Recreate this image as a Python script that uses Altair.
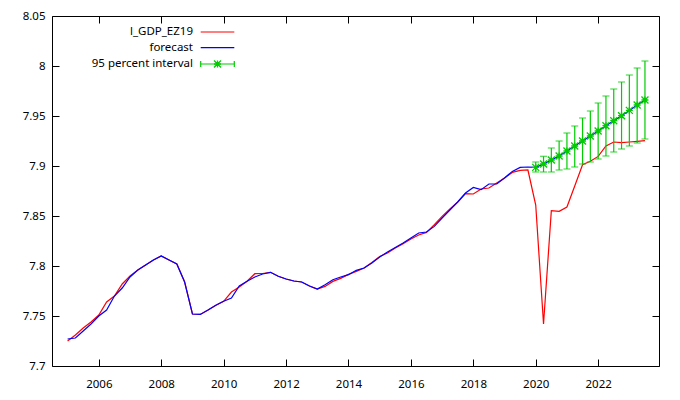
import altair as alt
import pandas as pd

start_year = 2005
actual = [
    7.725, 7.731, 7.738, 7.744,
    7.751, 7.764, 7.770, 7.782,
    7.790, 7.796, 7.801, 7.806,
    7.810, 7.806, 7.802, 7.784,
    7.752, 7.7516, 7.756, 7.7607,
    7.7647, 7.774, 7.779, 7.7847,
    7.7923, 7.7925, 7.7937, 7.7897,
    7.787, 7.785, 7.784, 7.780,
    7.777, 7.7796, 7.7846, 7.7876,
    7.7916, 7.7946, 7.798, 7.8036,
    7.8096, 7.813, 7.818, 7.8223,
    7.827, 7.831, 7.8336, 7.8413,
    7.8496, 7.857, 7.864, 7.8723,
    7.872, 7.877, 7.878, 7.883,
    7.888, 7.8936, 7.8956, 7.8960,
    7.861, 7.742, 7.8553, 7.8547,
    7.859, 7.880, 7.9013, 7.9047,
    7.9096, 7.920, 7.924, 7.9233,
    7.924, 7.9247, 7.9253,
]
fitted = [
    7.727, 7.728, 7.735, 7.742,
    7.750, 7.756, 7.770, 7.778,
    7.789, 7.796, 7.801, 7.806,
    7.810, 7.806, 7.802, 7.784,
    7.752, 7.7516, 7.756, 7.7607,
    7.7647, 7.768, 7.780, 7.7847,
    7.789, 7.792, 7.7937, 7.7897,
    7.787, 7.785, 7.784, 7.780,
    7.777, 7.7813, 7.7863, 7.789,
    7.7913, 7.7957, 7.798, 7.803,
    7.809, 7.814, 7.8186, 7.823,
    7.828, 7.833, 7.834, 7.8396,
    7.848, 7.856, 7.864, 7.873,
    7.8786, 7.8763, 7.882, 7.882,
    7.888, 7.8946, 7.8986, 7.899,
]
forecast = [7.8986, 7.902, 7.906, 7.910, 7.915, 7.920, 7.925, 7.930,
            7.935, 7.9403, 7.9453, 7.9503, 7.9556, 7.961, 7.966]
ci_low = [7.894, 7.894, 7.894, 7.896, 7.897, 7.899, 7.902, 7.904,
          7.907, 7.910, 7.914, 7.917, 7.920, 7.923, 7.927]
ci_high = [7.904, 7.9097, 7.918, 7.925, 7.933, 7.940, 7.948, 7.955,
           7.963, 7.970, 7.977, 7.984, 7.991, 7.998, 8.005]
x_ticks = [2006, 2008, 2010, 2012, 2014, 2016, 2018, 2020, 2022]
y_ticks = [7.7, 7.75, 7.8, 7.85, 7.9, 7.95, 8.0, 8.05]
legend_labels = ["l_GDP_EZ19", "forecast", "95 percent interval"]

t_all = [start_year + 0.25 * i for i in range(len(actual))]
df_act = pd.DataFrame({"t": t_all, "v": actual})
df_fit = pd.DataFrame({"t": t_all, "v": fitted + forecast})
df_fc = pd.DataFrame({"t": t_all[-len(forecast):], "v": forecast,
                      "lo": ci_low, "hi": ci_high})

FONT = "Noto Sans"
FS = 11.5
RED = "#ff0000"
BLUE = "#0000ff"
GREEN = "#00cc00"
STAR = "M-1,0L1,0M0,-1L0,1M-1,-1L1,1M-1,1L1,-1"

xs = alt.Scale(domain=[2004.5, 2023.95], nice=False, zero=False)
ys = alt.Scale(domain=[7.7, 8.05], nice=False, zero=False)

common_axis = dict(offset=-7, tickSize=7, domain=False, grid=False, title=None,
                   tickColor="black", tickWidth=1, labelColor="black",
                   labelFont=FONT, labelFontSize=FS)

x_bottom = alt.X("t:Q", scale=xs, axis=alt.Axis(orient="bottom", values=x_ticks, format="d",
                                                labelPadding=12, labelFlush=False, **common_axis))
y_left = alt.Y("v:Q", scale=ys, axis=alt.Axis(orient="left", values=y_ticks, format="~g",
                                             labelPadding=7, labelFlush=False, **common_axis))
x_top = alt.X("t:Q", scale=xs, axis=alt.Axis(orient="top", values=x_ticks, labels=False, **common_axis))
y_right = alt.Y("v:Q", scale=ys, axis=alt.Axis(orient="right", values=y_ticks, labels=False, **common_axis))

red_line = alt.Chart(df_act).mark_line(color=RED, strokeWidth=1.2).encode(x=x_bottom, y=y_left)
blue_line = alt.Chart(df_fit).mark_line(color=BLUE, strokeWidth=1.2).encode(x=x_top, y=y_right)

bars = alt.Chart(df_fc).mark_rule(color=GREEN, strokeWidth=1.2).encode(
    x=alt.X("t:Q", scale=xs, axis=None),
    y=alt.Y("lo:Q", scale=ys, axis=None),
    y2="hi:Q")
cap_lo = alt.Chart(df_fc).mark_tick(color=GREEN, orient="horizontal", size=7, thickness=1.2).encode(
    x=alt.X("t:Q", scale=xs, axis=None), y=alt.Y("lo:Q", scale=ys, axis=None))
cap_hi = alt.Chart(df_fc).mark_tick(color=GREEN, orient="horizontal", size=7, thickness=1.2).encode(
    x=alt.X("t:Q", scale=xs, axis=None), y=alt.Y("hi:Q", scale=ys, axis=None))
stars = alt.Chart(df_fc).mark_point(shape=STAR, color=GREEN, size=49, strokeWidth=1.3, filled=False, opacity=1).encode(
    x=alt.X("t:Q", scale=xs, axis=None), y=alt.Y("v:Q", scale=ys, axis=None))

# gnuplot-style key (top-left, text right aligned, sample to the right)
rows_y = [16, 31.7, 48]
text_x = 141
s_x1, s_x2 = 148.7, 182.3
legend_layers = []
for lbl, ry in zip(legend_labels, rows_y):
    d = pd.DataFrame({"label": [lbl]})
    legend_layers.append(alt.Chart(d).mark_text(align="right", baseline="middle", font=FONT,
                                                fontSize=FS, color="black").encode(
        x=alt.value(text_x), y=alt.value(ry), text="label:N"))
one = pd.DataFrame({"label": [legend_labels[0]]})
legend_layers.append(alt.Chart(one).mark_rule(color=RED, strokeWidth=1.2).encode(
    x=alt.value(s_x1), x2=alt.value(s_x2), y=alt.value(rows_y[0])))
legend_layers.append(alt.Chart(one).mark_rule(color=BLUE, strokeWidth=1.2).encode(
    x=alt.value(s_x1), x2=alt.value(s_x2), y=alt.value(rows_y[1])))
legend_layers.append(alt.Chart(one).mark_rule(color=GREEN, strokeWidth=1.2).encode(
    x=alt.value(s_x1), x2=alt.value(s_x2), y=alt.value(rows_y[2])))
for cx in (s_x1, s_x2):
    legend_layers.append(alt.Chart(one).mark_rule(color=GREEN, strokeWidth=1.2).encode(
        x=alt.value(cx), y=alt.value(rows_y[2] - 3), y2=alt.value(rows_y[2] + 3)))
legend_layers.append(alt.Chart(one).mark_point(shape=STAR, color=GREEN, size=49, strokeWidth=1.3,
                                               filled=False, opacity=1).encode(
    x=alt.value((s_x1 + s_x2) / 2), y=alt.value(rows_y[2])))

chart = alt.layer(red_line, blue_line, bars, cap_lo, cap_hi, stars, *legend_layers).resolve_axis(
    x="independent", y="independent"
).properties(
    width=607, height=350,
    padding={"left": 52, "top": 16, "right": 21, "bottom": 34},
    autosize=alt.AutoSizeParams(type="none"),
    background="white",
).configure_view(stroke="black", strokeWidth=1)

chart.save("out.html", embed_options={"renderer": "svg", "actions": False})
